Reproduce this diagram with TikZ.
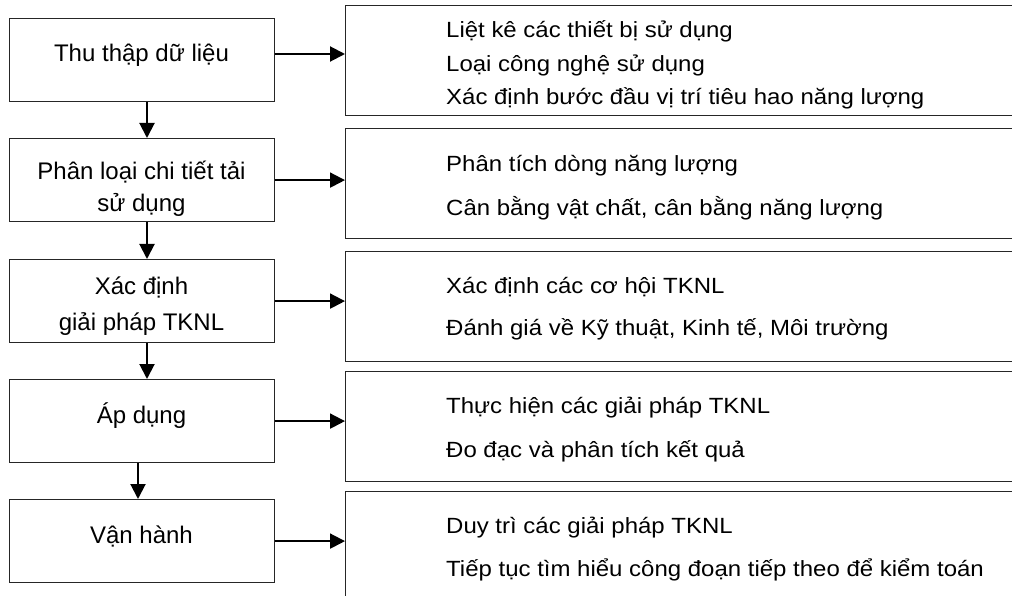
\documentclass[tikz,border=0pt]{standalone}
\usepackage{fontspec}
\setmainfont{Liberation Sans}
\newfontfamily\rfont[FakeStretch=1.09]{Liberation Sans}
\usetikzlibrary{arrows.meta}
\begin{document}
\begin{tikzpicture}[x=1pt,y=-1pt,
  lbox/.style={draw=black!85, line width=1.2pt, inner sep=0pt, anchor=north west, minimum width=265pt, minimum height=83pt},
  rbox/.style={draw=black!85, line width=1.2pt, inner sep=0pt, anchor=north west, minimum width=700pt, minimum height=110pt},
  ltext/.style={anchor=base, inner sep=0pt, font=\fontsize{24}{28}\selectfont},
  rtext/.style={anchor=base west, inner sep=0pt, font=\rfont\fontsize{22}{26}\selectfont},
  arr/.style={line width=2pt, -{Triangle[length=15pt,width=15pt]}}]
\clip (0,0) rectangle (1012,596);
\fill[white] (0,0) rectangle (1012,596);
% left boxes
\node[lbox] (b1) at (9,18) {};
\node[lbox] (b2) at (9,138) {};
\node[lbox] (b3) at (9,259) {};
\node[lbox] (b4) at (9,379) {};
\node[lbox] (b5) at (9,499) {};
% right boxes
\node[rbox] (r1) at (345,5) {};
\node[rbox] (r2) at (345,128) {};
\node[rbox] (r3) at (345,251) {};
\node[rbox] (r4) at (345,371) {};
\node[rbox] (r5) at (345,491) {};
% left texts
\node[ltext] (t1) at (141.5,62) {Thu thập dữ liệu};
\node[ltext] (t2a) at (141.5,180) {Phân loại chi tiết tải};
\node[ltext] (t2b) at (141.5,212) {sử dụng};
\node[ltext] (t3a) at (141.5,294) {Xác định};
\node[ltext] (t3b) at (141.5,330) {giải pháp TKNL};
\node[ltext] (t4) at (141.5,423) {Áp dụng};
\node[ltext] (t5) at (141.5,543) {Vận hành};
% right texts
\node[rtext] (s1a) at (446,38) {Liệt kê các thiết bị sử dụng};
\node[rtext] (s1b) at (446,72) {Loại công nghệ sử dụng};
\node[rtext] (s1c) at (446,105) {Xác định bước đầu vị trí tiêu hao năng lượng};
\node[rtext] (s2a) at (446,172) {Phân tích dòng năng lượng};
\node[rtext] (s2b) at (446,215) {Cân bằng vật chất, cân bằng năng lượng};
\node[rtext] (s3a) at (446,293) {Xác định các cơ hội TKNL};
\node[rtext] (s3b) at (446,335) {Đánh giá về Kỹ thuật, Kinh tế, Môi trường};
\node[rtext] (s4a) at (446,413) {Thực hiện các giải pháp TKNL};
\node[rtext] (s4b) at (446,457) {Đo đạc và phân tích kết quả};
\node[rtext] (s5a) at (446,533) {Duy trì các giải pháp TKNL};
\node[rtext] (s5b) at (446,576) {Tiếp tục tìm hiểu công đoạn tiếp theo để kiểm toán};
% vertical arrows
\coordinate (xa) at (147,0);
\coordinate (xb) at (138,0);
\draw[arr] (b1.south -| xa) -- (b2.north -| xa);
\draw[arr] (b2.south -| xa) -- (b3.north -| xa);
\draw[arr] (b3.south -| xa) -- (b4.north -| xa);
\draw[arr] (b4.south -| xb) -- (b5.north -| xb);
% horizontal arrows
\coordinate (y1) at (0,54);
\draw[arr] (b1.east |- y1) -- (r1.west |- y1);
\draw[arr] (b2.east) -- (r2.west |- b2.east);
\draw[arr] (b3.east) -- (r3.west |- b3.east);
\draw[arr] (b4.east) -- (r4.west |- b4.east);
\draw[arr] (b5.east) -- (r5.west |- b5.east);
\end{tikzpicture}
\end{document}
